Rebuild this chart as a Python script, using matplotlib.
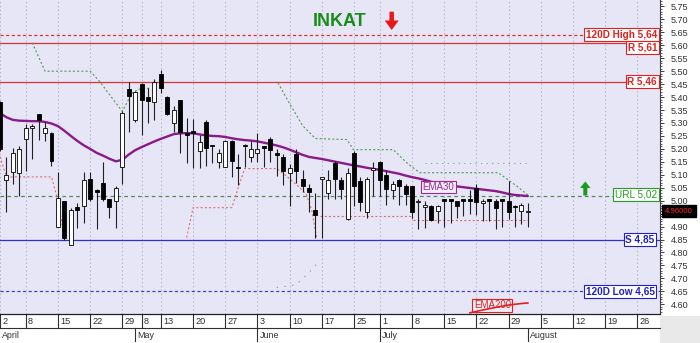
import numpy as np
import matplotlib
matplotlib.use("Agg")
import matplotlib.pyplot as plt
from matplotlib.patches import Rectangle, Polygon
from matplotlib import transforms
from matplotlib.ticker import MultipleLocator, FuncFormatter

plt.rcParams['font.family'] = ['Liberation Sans', 'DejaVu Sans']

# ---------------- data ----------------
opens = [5.38, 5.08, 5.11, 5.105, 5.24, 5.28, 5.335, 5.26, 5.26, 4.90,
         5.00, 4.83, 4.975, 4.98, 5.085, 5.04, 5.07, 5.005, 5.00, 5.13,
         5.43, 5.31, 5.45, 5.40, 5.38, 5.49, 5.40, 5.30, 5.39, 5.26,
         5.27, 5.19, 5.305, 5.215, 5.15, 5.13, 5.23, 5.13, 5.215, 5.17,
         5.185, 5.21, 5.24, 5.185, 5.17, 5.105, 5.18, 5.085, 5.05, 4.965,
         5.085, 5.03, 5.145, 5.08, 4.93, 5.185, 5.075, 4.955, 5.12, 5.15,
         5.10, 5.04, 5.08, 5.055, 5.055, 4.995, 4.975, 4.98, 4.96, 5.005,
         5.005, 5.00, 5.005, 5.005, 5.05, 4.99, 5.005, 5.00, 5.005, 5.00,
         4.98, 4.96, 4.955]
highs = [5.385, 5.17, 5.205, 5.21, 5.295, 5.295, 5.335, 5.305, 5.265, 5.11,
         5.00, 4.97, 4.99, 5.11, 5.11, 5.045, 5.15, 5.005, 5.055, 5.345,
         5.46, 5.425, 5.455, 5.435, 5.47, 5.505, 5.405, 5.365, 5.39, 5.32,
         5.315, 5.255, 5.31, 5.215, 5.20, 5.235, 5.235, 5.18, 5.22, 5.23,
         5.26, 5.21, 5.245, 5.20, 5.18, 5.14, 5.20, 5.12, 5.065, 5.03,
         5.09, 5.12, 5.155, 5.09, 5.125, 5.19, 5.09, 5.09, 5.15, 5.155,
         5.12, 5.075, 5.085, 5.065, 5.055, 5.005, 5.00, 4.985, 4.985, 5.005,
         5.005, 5.00, 5.005, 5.04, 5.065, 5.005, 5.005, 5.005, 5.005, 5.075,
         4.985, 4.99, 4.99]
lows = [5.19, 4.955, 5.065, 5.02, 5.115, 5.16, 5.235, 5.23, 5.135, 4.90,
        4.85, 4.83, 4.895, 4.915, 5.00, 4.89, 5.00, 4.935, 4.895, 5.065,
        5.265, 5.305, 5.255, 5.30, 5.31, 5.415, 5.33, 5.265, 5.185, 5.145,
        5.125, 5.125, 5.135, 5.145, 5.125, 5.13, 5.09, 5.06, 5.13, 5.15,
        5.15, 5.13, 5.15, 5.095, 5.06, 4.98, 5.07, 5.035, 4.955, 4.855,
        4.855, 5.005, 5.005, 5.005, 4.925, 4.98, 4.96, 4.935, 5.02, 5.02,
        4.985, 5.005, 4.985, 4.985, 4.935, 4.89, 4.895, 4.92, 4.915, 4.90,
        4.915, 4.935, 4.94, 4.95, 4.945, 4.92, 4.92, 4.89, 4.90, 4.93,
        4.90, 4.91, 4.90]
closes = [5.20, 5.10, 5.185, 5.20, 5.28, 5.29, 5.31, 5.28, 5.155, 5.01,
          4.855, 4.965, 4.965, 5.08, 5.005, 5.035, 5.005, 4.975, 5.05, 5.34,
          5.405, 5.42, 5.39, 5.385, 5.46, 5.435, 5.335, 5.35, 5.265, 5.255,
          5.26, 5.225, 5.205, 5.21, 5.185, 5.23, 5.155, 5.125, 5.21, 5.20,
          5.20, 5.205, 5.195, 5.175, 5.115, 5.125, 5.115, 5.055, 5.035, 4.945,
          5.09, 5.08, 5.085, 5.045, 5.105, 5.055, 4.995, 5.085, 5.125, 5.08,
          5.045, 5.065, 5.055, 5.025, 4.955, 5.00, 4.985, 4.925, 4.98, 5.00,
          5.00, 4.98, 5.00, 5.00, 4.995, 5.00, 5.00, 4.97, 5.00, 4.955,
          4.975, 4.985, 4.96]
ema30 = [5.338, 5.322, 5.312, 5.309, 5.308, 5.307, 5.307, 5.304, 5.298, 5.288,
         5.270, 5.250, 5.231, 5.214, 5.200, 5.185, 5.174, 5.162, 5.152, 5.158,
         5.178, 5.195, 5.207, 5.218, 5.229, 5.239, 5.248, 5.257, 5.260, 5.261,
         5.260, 5.256, 5.252, 5.250, 5.249, 5.246, 5.241, 5.237, 5.234, 5.232,
         5.229, 5.224, 5.219, 5.213, 5.206, 5.197, 5.187, 5.177, 5.169, 5.165,
         5.161, 5.156, 5.151, 5.146, 5.141, 5.136, 5.132, 5.127, 5.123, 5.119,
         5.114, 5.109, 5.104, 5.097, 5.091, 5.086, 5.080, 5.073, 5.067, 5.062,
         5.058, 5.055, 5.052, 5.049, 5.046, 5.043, 5.040, 5.037, 5.032, 5.026,
         5.022, 5.020, 5.018]
ema200_idx = [73, 75, 77, 79, 81, 82]
ema200_val = [4.567, 4.578, 4.588, 4.597, 4.603, 4.605]

stop_lo_a_idx = [0, 1, 8, 9, 10]
stop_lo_a_val = [5.17, 5.092, 5.092, 5.00, 4.86]
stop_lo_b_idx = [29, 30, 36, 38, 43, 44.5, 46.6, 47.6, 48.4, 49.2]
stop_lo_b_val = [4.858, 4.973, 4.973, 5.124, 5.124, 5.095, 5.05, 5.024, 4.966, 4.858]
stop_lo_c_idx = [49.7, 64, 64, 82]
stop_lo_c_val = [4.94, 4.94, 4.925, 4.925]
stop_hi_a_idx = [5, 7, 14, 15.5, 17, 19, 20.5, 21.5, 23.5]
stop_hi_a_val = [5.61, 5.50, 5.50, 5.46, 5.41, 5.345, 5.415, 5.43, 5.435]
stop_hi_b_idx = [43.2, 44.8, 47, 49, 53.9, 54.9, 61.1, 63.2, 65.2, 77.4, 80.3, 82]
stop_hi_b_val = [5.455, 5.383, 5.29, 5.24, 5.236, 5.197, 5.197, 5.146, 5.108, 5.108, 5.056, 5.022]
upper_dots_idx = [66, 82]
upper_dots_val = [5.147, 5.147]
lower_dots_idx = [43, 46, 48.5, 49.5]
lower_dots_val = [4.665, 4.675, 4.735, 4.765]

week_idx = [0, 4, 9, 14, 19, 22, 25, 30, 35, 40, 45, 50, 55, 59, 64, 69, 74, 79, 84, 89, 94, 99]
week_lbl = ['2', '8', '15', '22', '29', '8', '13', '20', '27', '3', '10', '17', '25', '1',
            '8', '15', '22', '29', '5', '12', '19', '26']
month_idx = [0, 21, 40, 59, 82]
month_lbl = ['April', 'May', 'June', 'July', 'August']

levels = [5.64, 5.61, 5.46, 5.02, 4.85, 4.65]
level_lbl = ['120D High 5,64', 'R 5,61', 'R 5,46', 'URL 5,02', 'S 4,85', '120D Low 4,65']
level_col = ['#e03030', '#e03030', '#e03030', '#5a8a5a', '#3030d0', '#4040d0']
level_txt = ['#e02020', '#e02020', '#e02020', '#20a020', '#2020c8', '#2020c8']
level_ls = [(0, (2.5, 2)), '-', '-', (0, (3, 2.5)), '-', (0, (2.5, 2))]
level_bold = [True, True, True, False, True, True]
level_dy = [0, -3.6, 0, 1.0, 0, 0]

last_price = closes[-1]

# ---------------- figure ----------------
W, H = 700, 343
fig = plt.figure(figsize=(7.0, 3.43), dpi=100, facecolor='white')
ax = fig.add_axes([0, 29 / H, 660 / W, 314 / H])
ax.set_facecolor('#e6e6f7')
ax.set_xlim(0, 660 / 6.437)
ax.set_ylim(4.5625, 5.7749)


def fy(p):
    return 1 - p / H


# vertical dotted grid
for i in week_idx:
    ax.axvline(i, color='#b4b4c8', lw=0.7, ls=(0, (1.5, 2.5)), zorder=0.5)

# level lines
for lv, c, ls in zip(levels, level_col, level_ls):
    ax.axhline(lv, color=c, lw=0.9, ls=ls, zorder=1)

# stop lines
ax.plot(stop_lo_a_idx, stop_lo_a_val, color='#e06a6a', lw=0.8, ls=(0, (1.8, 2)), zorder=1.2)
ax.plot(stop_lo_b_idx, stop_lo_b_val, color='#e06a6a', lw=0.8, ls=(0, (1.8, 2)), zorder=1.2)
ax.plot(stop_lo_c_idx, stop_lo_c_val, color='#e06a6a', lw=0.8, ls=(0, (1.8, 2)), zorder=1.2)
ax.plot(stop_hi_a_idx, stop_hi_a_val, color='#4a9a4a', lw=0.8, ls=(0, (1.8, 2)), zorder=1.2)
ax.plot(stop_hi_b_idx, stop_hi_b_val, color='#4a9a4a', lw=0.8, ls=(0, (1.8, 2)), zorder=1.2)
ax.plot(upper_dots_idx, upper_dots_val, color='#8aa08a', lw=0.8, ls=(0, (1, 4)), zorder=1.2)
ax.plot(lower_dots_idx, lower_dots_val, color='#8a8a9a', lw=0.8, ls=(0, (1, 6)), zorder=1.2)

# EMA lines
x_all = np.arange(len(closes))
ax.plot(x_all, ema30, color='#8a1a8a', lw=1.7, zorder=3, solid_capstyle='round')
ax.plot(ema200_idx, ema200_val, color='#e02020', lw=1.2, zorder=3)

# candles
bw = 0.62
for i, (o, h, l, c) in enumerate(zip(opens, highs, lows, closes)):
    ax.plot([i, i], [l, h], color='#202020', lw=0.8, zorder=4, solid_capstyle='butt')
    lo, hi = min(o, c), max(o, c)
    hgt = max(hi - lo, 0.004)
    fc = 'white' if c >= o else 'black'
    ax.add_patch(Rectangle((i - bw / 2, lo), bw, hgt, facecolor=fc,
                           edgecolor='black', lw=0.6, zorder=5))

# level labels
for lv, t, tc, b, dy in zip(levels, level_lbl, level_txt, level_bold, level_dy):
    xr = 0.9955 if lv > 4.9 else 0.992
    ax.annotate(t, xy=(xr, lv), xycoords=('axes fraction', 'data'),
                xytext=(0, dy), textcoords='offset points',
                ha='right', va='center', fontsize=7.2,
                fontweight='bold' if b else 'normal', color=tc, zorder=8,
                bbox=dict(boxstyle='square,pad=0.15', fc='white', ec=tc, lw=0.8))

# EMA labels
ax.text(68.1, 5.053, 'EMA30', fontsize=7, color='#9a2a9a', ha='center', va='center', zorder=7,
        bbox=dict(boxstyle='square,pad=0.15', fc='#f2eef8', ec='#9a2a9a', lw=0.8))
ax.text(76.5, 4.597, 'EMA200', fontsize=7, color='#e02020', ha='center', va='center', zorder=2.5,
        bbox=dict(boxstyle='square,pad=0.15', fc='#f2eef8', ec='#e02020', lw=0.8))

# current price box (covers the 4.95 tick label, as in the reference)
ax.text(1.0075, last_price, '4.96000', transform=transforms.blended_transform_factory(ax.transAxes, ax.transData),
        fontsize=5.6, color='#ff2a2a', ha='left', va='center', clip_on=False, zorder=9,
        bbox=dict(boxstyle='square,pad=0.35', fc='black', ec='black'))


def ylab(v, pos):
    if abs(v - last_price) < 0.02:
        return ''
    return '%.2f' % v


# spines and ticks
for s in ['left', 'top']:
    ax.spines[s].set_visible(False)
ax.spines['right'].set_color('#404040')
ax.spines['right'].set_linewidth(0.8)
ax.spines['bottom'].set_color('#202020')
ax.spines['bottom'].set_linewidth(0.9)
ax.set_xticks([])
ax.yaxis.tick_right()
ax.yaxis.set_major_locator(MultipleLocator(0.05))
ax.yaxis.set_minor_locator(MultipleLocator(0.01))
ax.yaxis.set_major_formatter(FuncFormatter(ylab))
ax.tick_params(axis='y', which='major', length=3, width=0.7, color='#404040',
               labelsize=6.5, labelcolor='#303030', pad=5)
ax.tick_params(axis='y', which='minor', length=1.6, width=0.6, color='#404040')

# bottom date rows
bt = transforms.blended_transform_factory(ax.transData, fig.transFigure)
fig.add_artist(plt.Line2D([0, 660 / W], [fy(328.3), fy(328.3)], transform=fig.transFigure,
                          color='#303030', lw=0.8))
for i, t in zip(week_idx, week_lbl):
    ax.plot([i, i], [fy(314), fy(328.3)], transform=bt, color='#303030', lw=0.8, clip_on=False)
    ax.text(i + 0.35, fy(321.3), t, transform=bt, fontsize=6.6, color='#303030',
            ha='left', va='center', clip_on=False)
for i, t in zip(month_idx, month_lbl):
    if i > 0:
        ax.plot([i, i], [fy(328.3), fy(341)], transform=bt, color='#303030', lw=0.8, clip_on=False)
    ax.text(i + 0.3, fy(335.5), t, transform=bt, fontsize=6.4, color='#303030',
            ha='left', va='center', clip_on=False)

# grey corner
fig.add_artist(Rectangle((660 / W, 0), 40 / W, 27 / H, transform=fig.transFigure,
                         facecolor='#e9e9e9', edgecolor='none'))

# title and arrows
fig.text(340 / W, fy(21), 'INKAT', color='#1a8c1a', fontsize=13, fontweight='bold',
         ha='center', va='center')


def arrow(cx, ytail, ytip, shaft_w, head_w, head_len, color):
    d = 1 if ytip > ytail else -1
    yb = ytip - d * head_len
    pts = [(cx - shaft_w / 2, ytail), (cx + shaft_w / 2, ytail), (cx + shaft_w / 2, yb),
           (cx + head_w / 2, yb), (cx, ytip), (cx - head_w / 2, yb), (cx - shaft_w / 2, yb)]
    pts = [(x / W, fy(y)) for x, y in pts]
    fig.add_artist(Polygon(pts, closed=True, transform=fig.transFigure,
                           facecolor=color, edgecolor='none'))


arrow(391.7, 11.7, 30, 4.5, 14, 9.5, '#e81818')
arrow(585.3, 195.5, 181.5, 4.0, 10.5, 6.5, '#1a9a1a')

fig.savefig('out.png', dpi=100, facecolor='white')
